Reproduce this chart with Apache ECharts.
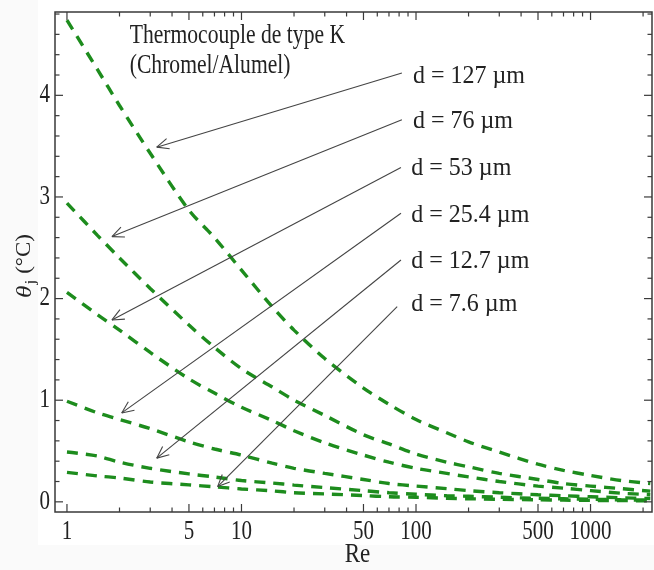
<!DOCTYPE html>
<html><head><meta charset="utf-8">
<script src="https://cdn.jsdelivr.net/npm/echarts@6/dist/echarts.min.js"></script>
<style>html,body{margin:0;padding:0;background:#fff}#c{width:654px;height:570px}</style>
</head><body><div id="c"></div><script>
// Reynolds numbers (x) at which the curves were read
const reValues = [1, 1.5, 2, 3, 5, 7, 10, 15, 20, 30, 50, 70, 100, 150, 200, 300, 500, 700, 1000, 1500, 2200];
// theta_j (°C) for each wire diameter
const d127 = [4.74, 4.25, 3.90, 3.43, 2.87, 2.60, 2.28, 1.92, 1.69, 1.41, 1.12, 0.96, 0.81, 0.68, 0.59, 0.49, 0.37, 0.31, 0.26, 0.21, 0.18];
const d76  = [2.94, 2.62, 2.40, 2.10, 1.74, 1.52, 1.31, 1.13, 1.00, 0.85, 0.66, 0.57, 0.47, 0.39, 0.345, 0.28, 0.22, 0.18, 0.155, 0.13, 0.105];
const d53  = [2.06, 1.84, 1.69, 1.47, 1.21, 1.07, 0.93, 0.80, 0.70, 0.58, 0.46, 0.39, 0.33, 0.28, 0.245, 0.20, 0.155, 0.135, 0.11, 0.085, 0.07];
const d25  = [0.99, 0.875, 0.81, 0.72, 0.59, 0.52, 0.46, 0.38, 0.33, 0.28, 0.22, 0.18, 0.155, 0.13, 0.11, 0.09, 0.07, 0.06, 0.05, 0.04, 0.033];
const d12  = [0.49, 0.45, 0.39, 0.33, 0.275, 0.245, 0.21, 0.185, 0.165, 0.14, 0.11, 0.09, 0.075, 0.06, 0.055, 0.045, 0.035, 0.03, 0.025, 0.02, 0.017];
const d7   = [0.29, 0.255, 0.235, 0.195, 0.167, 0.148, 0.127, 0.108, 0.09, 0.078, 0.062, 0.05, 0.045, 0.035, 0.03, 0.025, 0.02, 0.017, 0.014, 0.012, 0.01];
const seriesValues = [d127, d76, d53, d25, d12, d7];
const seriesNames = ['d = 127 µm', 'd = 76 µm', 'd = 53 µm', 'd = 25.4 µm', 'd = 12.7 µm', 'd = 7.6 µm'];

// axis ticks
const xMajorTicks = [1, 5, 10, 50, 100, 500, 1000];
const xTickLabels = ['1', '5', '10', '50', '100', '500', '1000'];
const xMinorTicks = [2, 3, 4, 6, 7, 8, 9, 20, 30, 40, 60, 70, 80, 90, 200, 300, 400, 600, 700, 800, 900, 2000];
const yMajorTicks = [0, 1, 2, 3, 4];
const yTickLabels = ['0', '1', '2', '3', '4'];
const yMinorTicks = [0.2, 0.4, 0.6, 0.8, 1.2, 1.4, 1.6, 1.8, 2.2, 2.4, 2.6, 2.8, 3.2, 3.4, 3.6, 3.8, 4.2, 4.4, 4.6, 4.8];
const xRange = [0.854, 2250];
const yRange = [-0.1, 4.82];

// annotations (data coordinates)
const titleLines = ['Thermocouple de type K', '(Chromel/Alumel)'];
const titleAnchors = [[2.29, 4.58], [2.29, 4.29]];
const labelAnchors = [[96, 4.19], [96, 3.75], [94, 3.28], [94, 2.82], [94, 2.37], [94, 1.94]];
const arrowStarts = [[83, 4.22], [83, 3.76], [82, 3.29], [82, 2.84], [82, 2.38], [78, 1.92]];
const arrowTips = [[3.27, 3.49], [1.81, 2.61], [1.81, 1.79], [2.06, 0.875], [3.27, 0.43], [7.3, 0.15]];

const FONT = '"Liberation Serif", "Times New Roman", serif';
const GREEN = '#1d8c1d';
const INK = '#222';

const chart = echarts.init(document.getElementById('c'), null, {renderer: 'canvas'});
chart.setOption({
  backgroundColor: '#fafafa',
  animation: false,
  grid: {left: 55, top: 12, right: 2, bottom: 58, show: true, borderColor: '#3a3a3a', borderWidth: 1.5, backgroundColor: '#fff'},
  xAxis: {type: 'log', logBase: 10, min: xRange[0], max: xRange[1],
    axisLine: {show: false}, axisTick: {show: false}, axisLabel: {show: false}, splitLine: {show: false}},
  yAxis: {type: 'value', min: yRange[0], max: yRange[1],
    axisLine: {show: false}, axisTick: {show: false}, axisLabel: {show: false}, splitLine: {show: false}},
  series: seriesValues.map((vals, i) => ({
    name: seriesNames[i], type: 'line', smooth: 0.3, symbol: 'none', z: 3,
    lineStyle: {color: GREEN, width: 3.4, type: [11, 8]},
    data: reValues.map((r, k) => [r, vals[k]])
  }))
});

function px(x, y) { return chart.convertToPixel({gridIndex: 0}, [x, y]); }

function txt(x, y, text, opts) {
  opts = opts || {};
  return {type: 'text', x: x, y: y, z: 20,
    scaleX: opts.sx || 1, scaleY: opts.sy || 1, rotation: opts.rot || 0,
    style: {text: text, font: opts.font || ('21px ' + FONT), fill: INK,
      align: opts.align || 'center', verticalAlign: opts.va || 'middle',
      textAlign: opts.align || 'center', textVerticalAlign: opts.va || 'middle',
      rich: opts.rich}};
}
function seg(x1, y1, x2, y2, w, c) {
  return {type: 'line', z: 15, shape: {x1: x1, y1: y1, x2: x2, y2: y2},
    style: {stroke: c || '#3a3a3a', lineWidth: w || 1.2}};
}

const g = [];
const yBot = px(1, yRange[0])[1], yTop = px(1, yRange[1])[1];
const xL = px(xRange[0], 0)[0], xR = px(xRange[1], 0)[0];
// subtle page frame like the reference scan
g.push({type: 'rect', z: -10, shape: {x: 38, y: 0, width: 616, height: 545}, style: {fill: '#fff'}});

xMajorTicks.forEach((v, i) => {
  const p = px(v, 0);
  g.push(seg(p[0], yBot, p[0], yBot - 8));
  g.push(seg(p[0], yTop, p[0], yTop + 8));
  g.push(txt(p[0], yBot + 20, xTickLabels[i], {sy: 1.25}));
});
xMinorTicks.forEach(v => {
  const p = px(v, 0);
  g.push(seg(p[0], yBot, p[0], yBot - 4.5));
  g.push(seg(p[0], yTop, p[0], yTop + 4.5));
});
yMajorTicks.forEach((v, i) => {
  const p = px(1, v);
  g.push(seg(xL, p[1], xL + 8, p[1]));
  g.push(seg(xR, p[1], xR - 8, p[1]));
  g.push(txt(xL - 5, p[1], yTickLabels[i], {align: 'right', sy: 1.25}));
});
yMinorTicks.forEach(v => {
  const p = px(1, v);
  g.push(seg(xL, p[1], xL + 4.5, p[1]));
  g.push(seg(xR, p[1], xR - 4.5, p[1]));
});

// axis names
g.push(txt((xL + xR) / 2 + 4, 555, 'Re', {font: '23px ' + FONT, sy: 1.15}));
g.push(txt(25, 266, '{t|θ}{s|j}{n| (°C)}', {rot: Math.PI / 2, sx: 1.15,
  rich: {t: {font: 'italic 22px ' + FONT, fill: INK},
         s: {font: '15px ' + FONT, fill: INK, padding: [12, 0, 0, 1]},
         n: {font: '20px ' + FONT, fill: INK}}}));

// title
titleLines.forEach((t, i) => {
  const p = px(titleAnchors[i][0], titleAnchors[i][1]);
  g.push(txt(p[0], p[1], t, {align: 'left', sy: 1.22, font: '21.6px ' + FONT}));
});
// labels and arrows
seriesNames.forEach((name, i) => {
  const lp = px(labelAnchors[i][0], labelAnchors[i][1]);
  g.push(txt(lp[0], lp[1], name, {align: 'left', sy: 1.08, font: '24px ' + FONT}));
  const s = px(arrowStarts[i][0], arrowStarts[i][1]);
  const t = px(arrowTips[i][0], arrowTips[i][1]);
  g.push(seg(s[0], s[1], t[0], t[1], 1.1, '#444'));
  const ang = Math.atan2(s[1] - t[1], s[0] - t[0]);
  const L = 13, spread = 0.42;
  [ang - spread, ang + spread].forEach(a => {
    g.push(seg(t[0], t[1], t[0] + L * Math.cos(a), t[1] + L * Math.sin(a), 1.1, '#444'));
  });
});

chart.setOption({graphic: {elements: g}});
</script></body></html>
